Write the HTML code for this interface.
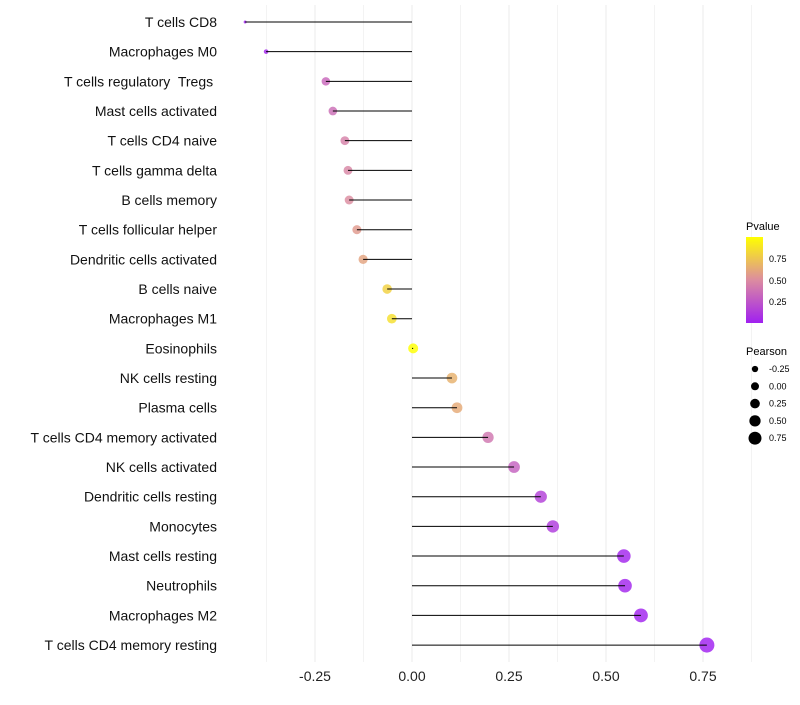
<!DOCTYPE html>
<html><head><meta charset="utf-8"><style>
body{margin:0;background:#fff;font-family:"Liberation Sans",sans-serif}
svg text{font-family:"Liberation Sans",sans-serif;white-space:pre}
</style></head><body>
<svg id="c" width="800" height="700">
<defs><linearGradient id="pg" x1="0" y1="1" x2="0" y2="0">
<stop offset="0" stop-color="#a020f0"/><stop offset="0.5" stop-color="#dc8ca0"/><stop offset="1" stop-color="#ffff00"/></linearGradient></defs>
<g id="grid"></g><g id="dots"></g><g id="stems"></g><g id="axis"></g>
<g>
<text x="746" y="230" font-size="11">Pvalue</text>
<rect x="746" y="237" width="17" height="86" fill="url(#pg)"/>
<text x="769" y="262" font-size="9">0.75</text>
<text x="769" y="284" font-size="9">0.50</text>
<text x="769" y="305" font-size="9">0.25</text>
</g>
<g id="sizeleg">
<text x="746" y="355" font-size="11">Pearson</text>
</g>
</svg>
<script>
const categories=["T cells CD8","Macrophages M0","T cells regulatory  Tregs ","Mast cells activated","T cells CD4 naive","T cells gamma delta","B cells memory","T cells follicular helper","Dendritic cells activated","B cells naive","Macrophages M1","Eosinophils","NK cells resting","Plasma cells","T cells CD4 memory activated","NK cells activated","Dendritic cells resting","Monocytes","Mast cells resting","Neutrophils","Macrophages M2","T cells CD4 memory resting"];
const pearson=[-0.43,-0.376,-0.222,-0.204,-0.173,-0.165,-0.162,-0.142,-0.126,-0.064,-0.052,0.003,0.103,0.116,0.196,0.263,0.332,0.363,0.546,0.549,0.590,0.760];
const pvalues=[0.0,0.02,0.33,0.36,0.45,0.47,0.5,0.56,0.6,0.8,0.86,1.0,0.66,0.63,0.4,0.3,0.15,0.12,0.02,0.02,0.01,0.0];
const xTicks=[-0.25,0,0.25,0.5,0.75];
const xTickLabels=["-0.25","0.00","0.25","0.50","0.75"];
const sizeLegend=[-0.25,0,0.25,0.5,0.75];
const NS="http://www.w3.org/2000/svg";
const x=v=>412+v*388;
const y=i=>22+i*29.67;
const r=v=>v>=-0.25?5+3.3*v:Math.max(1.5,4.2-(-0.25-v)*15);
function col(p){const a=[160,32,240],m=[220,140,160],b=[255,255,0];let c;
if(p<0.5){const t=p/0.5;c=a.map((v,k)=>v+(m[k]-v)*t);}else{const t=(p-0.5)/0.5;c=m.map((v,k)=>v+(b[k]-v)*t);}
return `rgb(${c.map(Math.round).join(",")})`;}
function mk(t,a,p){const e=document.createElementNS(NS,t);for(const k in a)e.setAttribute(k,a[k]);p.appendChild(e);return e;}
const g=document.getElementById("grid"),dg=document.getElementById("dots"),sg=document.getElementById("stems"),ax=document.getElementById("axis");
for(let v=-0.375;v<=0.876;v+=0.125){const l=mk("line",{x1:x(v),x2:x(v),y1:5,y2:662,stroke:"#ebebeb","stroke-width":(Math.abs(v/0.25-Math.round(v/0.25))<0.01)?1:0.6},g);

}
xTicks.forEach((v,i)=>{const t=mk("text",{x:x(v),y:681,"font-size":14,"text-anchor":"middle",fill:"#222"},ax);t.textContent=xTickLabels[i];

});
categories.forEach((c,i)=>{
const t=mk("text",{x:217,y:y(i)+5,"font-size":14,"text-anchor":"end",fill:"#111"},ax);t.textContent=c;


const d=mk("circle",{cx:x(pearson[i]),cy:y(i),r:r(pearson[i]),fill:col(pvalues[i]),"fill-opacity":0.82},dg);


const l=mk("line",{x1:x(0),x2:x(pearson[i]),y1:y(i),y2:y(i),stroke:"#000","stroke-width":1},sg);


});
const sl=document.getElementById("sizeleg");
sizeLegend.forEach((v,i)=>{const cy=369+i*17.3;
const d=mk("circle",{cx:755,cy:cy,r:4+v*3.3,fill:"#000"},sl);


const t=mk("text",{x:769,y:cy+3,"font-size":9},sl);t.textContent=v.toFixed(2);

});
</script>
</body></html>
